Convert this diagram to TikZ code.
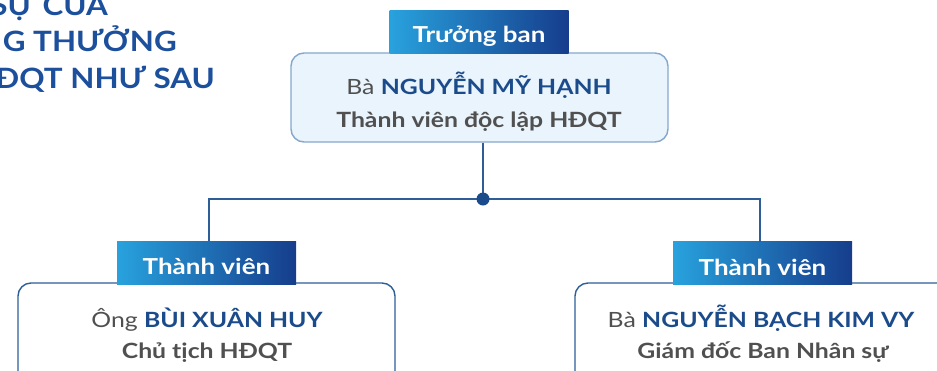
\documentclass[tikz,border=0pt]{standalone}
\usepackage{fontspec}
\setmainfont{Lato}[FakeStretch=1.18]
\newfontfamily\titlefont{Lato}[FakeStretch=1.12]
\definecolor{tabL}{HTML}{28A2DD}
\definecolor{tabR}{HTML}{163D8C}
\definecolor{namec}{HTML}{1B4B8A}
\definecolor{greyc}{HTML}{505050}
\definecolor{linec}{HTML}{2E5E98}
\definecolor{topfill}{HTML}{E9F4FC}
\definecolor{topborder}{HTML}{86A6CC}
\definecolor{titlec}{HTML}{1C4F9C}
\begin{document}
\begin{tikzpicture}[x=1pt,y=-1pt,
  tabbox/.style={left color=tabL,right color=tabR,draw=none,inner sep=0pt,
    minimum width=179pt,minimum height=43pt,text=white,font=\fontsize{22}{24}\selectfont\bfseries},
  cardbox/.style={draw=linec,line width=1.4pt,rounded corners=13pt,fill=white,inner sep=0pt,
    minimum width=377pt,minimum height=118pt},
  topcard/.style={draw=topborder,line width=1.4pt,rounded corners=13pt,fill=topfill,inner sep=0pt,
    minimum width=377pt,minimum height=89pt},
  nametxt/.style={anchor=base,font=\fontsize{21}{24}\selectfont,text=greyc,inner sep=0pt},
  roletxt/.style={anchor=base,font=\fontsize{21}{24}\selectfont\bfseries,text=greyc,inner sep=0pt},
  titletxt/.style={anchor=base east,font=\titlefont\fontsize{28}{30}\selectfont\bfseries,text=titlec,inner sep=0pt},
  conn/.style={draw=linec,line width=1.4pt}]
\useasboundingbox (0,0) rectangle (937,370);
% title
\node[titletxt] (h1) at (108,15) {SỰ CỦA};
\node[titletxt] (h2) at (177,51) {G THƯỞNG};
\node[titletxt] (h3) at (215,88) {ĐQT NHƯ SAU};
% top
\node[topcard] (b1) at (479.5,97.5) {};
\node[tabbox] (t1) at (479,31.5) {\raisebox{-11pt}[0pt][0pt]{Trưởng ban}};
\node[nametxt] (n1) at (479,94) {Bà \textbf{\color{namec}NGUYỄN MỸ HẠNH}};
\node[roletxt] (r1) at (479,127) {Thành viên độc lập HĐQT};
% left
\node[cardbox] (b2) at (206.5,342) {};
\node[tabbox] (t2) at (206.5,262.5) {\raisebox{-12pt}[0pt][0pt]{Thành viên}};
\node[nametxt] (n2) at (207,327) {Ông \textbf{\color{namec}BÙI XUÂN HUY}};
\node[roletxt] (r2) at (207,358) {Chủ tịch HĐQT};
% right
\node[cardbox] (b3) at (763.5,342) {};
\node[tabbox] (t3) at (762.5,263) {\raisebox{-12pt}[0pt][0pt]{Thành viên}};
\node[nametxt] (n3) at (761,327) {Bà \textbf{\color{namec}NGUYỄN BẠCH KIM VY}};
\node[roletxt] (r3) at (763,358) {Giám đốc Ban Nhân sự};
% connectors
\coordinate (dot) at (483,199);
\coordinate (lt) at (209,241);
\coordinate (rt) at (760,242);
\draw[conn] (b1.south -| dot) -- (dot);
\draw[conn] (lt) |- (dot) -| (rt);
\fill[namec] (dot) circle (6.5pt);
\end{tikzpicture}
\end{document}
